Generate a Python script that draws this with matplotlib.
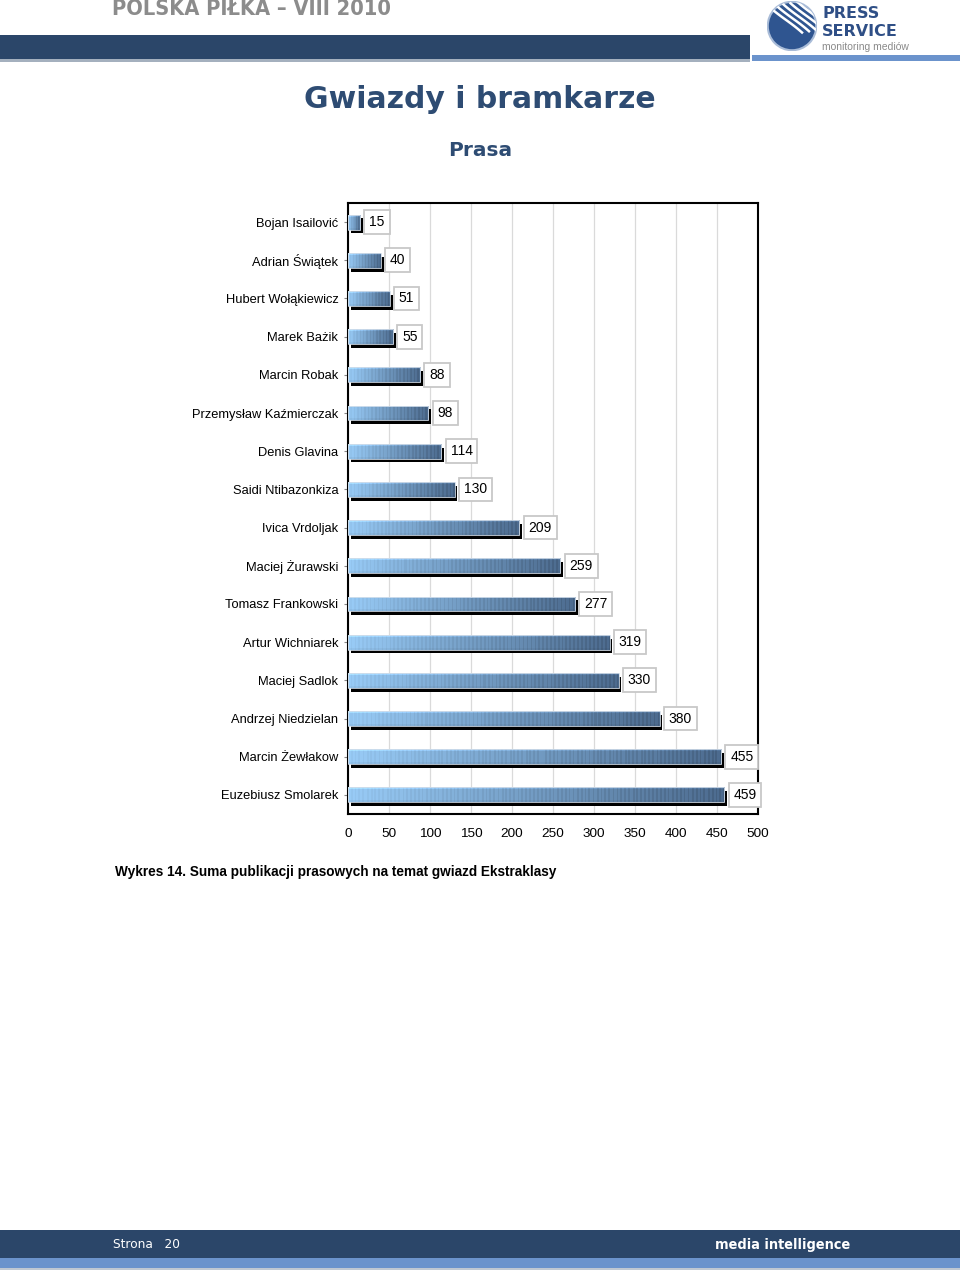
import matplotlib
matplotlib.use("Agg")
import matplotlib.pyplot as plt
import matplotlib.patches as mpatches
import numpy as np

# dane z wykresu
names = ["Bojan Isailović", "Adrian Świątek", "Hubert Wołąkiewicz", "Marek Bażik",
         "Marcin Robak", "Przemysław Kaźmierczak", "Denis Glavina", "Saidi Ntibazonkiza",
         "Ivica Vrdoljak", "Maciej Żurawski", "Tomasz Frankowski", "Artur Wichniarek",
         "Maciej Sadlok", "Andrzej Niedzielan", "Marcin Żewłakow", "Euzebiusz Smolarek"]
values = [15, 40, 51, 55, 88, 98, 114, 130, 209, 259, 277, 319, 330, 380, 455, 459]
xticks = [0, 50, 100, 150, 200, 250, 300, 350, 400, 450, 500]

W, H = 960, 1277
navy = "#2b4669"
light = "#6b93cc"
plt.rcParams['font.family'] = ['Liberation Sans', 'DejaVu Sans']

fig = plt.figure(figsize=(W / 100, H / 100), dpi=100)


def fx(px):
    return px / W


def fy(py):
    return 1 - py / H


# naglowek
fig.patches.append(mpatches.Rectangle((0, fy(59)), fx(750), 24 / H, transform=fig.transFigure,
                                      facecolor=navy, edgecolor="none"))
fig.patches.append(mpatches.Rectangle((0, fy(62)), fx(750), 3 / H, transform=fig.transFigure,
                                      facecolor="#a4b0be", edgecolor="none"))
fig.patches.append(mpatches.Rectangle((fx(752), fy(61)), fx(208), 6 / H, transform=fig.transFigure,
                                      facecolor=light, edgecolor="none"))
fig.text(fx(112), fy(9), "POLSKA PIŁKA – VIII 2010", fontsize=15.7, fontweight="bold",
         color="#8c8c8c", family="DejaVu Sans", stretch="condensed", va="center", ha="left")

# logo
logo = fig.add_axes([fx(766), fy(51), fx(52), 50 / H])
logo.set_xlim(-1, 1)
logo.set_ylim(-1, 1)
logo.set_aspect("equal")
logo.axis("off")
disc = mpatches.Circle((0, 0), 0.97, facecolor="#2f5590", edgecolor="#a9bcd8", lw=1.5)
logo.add_patch(disc)
for k in range(5):
    t = np.linspace(-0.6, 0.6, 30)
    ln, = logo.plot(np.linspace(-0.9, 0.4, 30) + 0.28 * k, np.linspace(0.9, -0.4, 30) + 0.05 * k + 0.15 * np.sin(t * 2),
                    color="white", lw=1.8)
    ln.set_clip_path(disc)
fig.text(fx(822), fy(14), "PRESS", fontsize=11.5, fontweight="bold", color="#2f4f86",
         family="DejaVu Sans", va="center", ha="left")
fig.text(fx(822), fy(32), "SERVICE", fontsize=11.5, fontweight="bold", color="#2f4f86",
         family="DejaVu Sans", va="center", ha="left")
fig.text(fx(822), fy(47), "monitoring mediów", fontsize=7.5, color="#8a8a8a",
         va="center", ha="left")

# tytuly
fig.text(0.5, fy(100), "Gwiazdy i bramkarze", fontsize=21.5, fontweight="bold", color="#2e4c73",
         family="DejaVu Sans", ha="center", va="center")
fig.text(0.5, fy(151), "Prasa", fontsize=14.5, fontweight="bold", color="#2e4c73",
         family="DejaVu Sans", ha="center", va="center")

# wykres
ax = fig.add_axes([fx(348), fy(814), fx(410), 611 / H])
n = len(names)
pos = np.arange(n)
ax.set_xlim(0, 500)
ax.set_ylim(n - 0.5, -0.5)
ax.set_xticks(xticks)
ax.set_xticklabels([str(v) for v in xticks], fontsize=9.7)
ax.set_yticks(pos)
ax.set_yticklabels(names, fontsize=9.3)
ax.tick_params(axis="y", length=3, color="#888888", pad=4)
ax.tick_params(axis="x", length=0, pad=10)
ax.grid(axis="x", color="#dadada", lw=0.9)
ax.set_axisbelow(True)
for s in ax.spines.values():
    s.set_color("black")
    s.set_linewidth(1.5)

# tekstura slupka: gradient + paski
c0 = np.array([0.60, 0.80, 0.97])
c1 = np.array([0.30, 0.42, 0.56])


def bar_image(v):
    cols = 400
    xx = np.linspace(0, 1, cols)
    grad = c0[None, :] * (1 - xx[:, None]) + c1[None, :] * xx[:, None]
    nstripes = 3 + v / 5.0
    phase = (xx * nstripes) % 1.0
    stripe = 1 - (0.03 + 0.08 * xx) * (phase > 0.55)
    grad = np.clip(grad * stripe[:, None], 0, 1)
    yy = np.linspace(0, 1, 14)
    shade = 1 + 0.12 * (yy < 0.15) - 0.04 * (yy > 0.85)
    return np.clip(grad[None, :, :] * shade[:, None, None], 0, 1)


bh = 0.39
for i, v in enumerate(values):
    ax.barh(i + 0.1, v, height=bh, left=3.5, color="black", zorder=2)
    bar = ax.barh(i, v, height=bh, color="none", edgecolor="none", zorder=3)[0]
    im = ax.imshow(bar_image(v), extent=[0, v, i + bh / 2, i - bh / 2], aspect="auto",
                   zorder=3, interpolation="nearest")
    im.set_clip_path(bar)
    ax.add_patch(mpatches.Rectangle((0, i - bh / 2), v, bh, facecolor="none",
                                    edgecolor="#d2dde9", lw=0.6, zorder=4))
    ax.annotate(str(v), (v, i), xytext=(6.5, 0), textcoords="offset points",
                ha="left", va="center", fontsize=10, zorder=5,
                bbox=dict(boxstyle="square,pad=0.35", facecolor="white",
                          edgecolor="#c8c8c8", lw=1.3))
ax.set_xlim(0, 500)
ax.set_ylim(n - 0.5, -0.5)

fig.text(fx(115), fy(872), "Wykres 14. Suma publikacji prasowych na temat gwiazd Ekstraklasy",
         fontsize=9.85, fontweight="bold", ha="left", va="center")

# stopka
fig.patches.append(mpatches.Rectangle((0, fy(1258)), 1, 28 / H, transform=fig.transFigure,
                                      facecolor=navy, edgecolor="none"))
fig.patches.append(mpatches.Rectangle((0, fy(1268)), 1, 10 / H, transform=fig.transFigure,
                                      facecolor=light, edgecolor="none"))
fig.patches.append(mpatches.Rectangle((0, fy(1270)), 1, 2 / H, transform=fig.transFigure,
                                      facecolor="#c0c8d2", edgecolor="none"))
fig.text(fx(113), fy(1244), "Strona   20", fontsize=9.7, color="white", family="DejaVu Sans",
         stretch="condensed", ha="left", va="center")
fig.text(fx(715), fy(1245), "media intelligence", fontsize=10.4, fontweight="bold", color="white",
         family="DejaVu Sans", stretch="condensed", ha="left", va="center")

fig.savefig("out.png", dpi=100)
